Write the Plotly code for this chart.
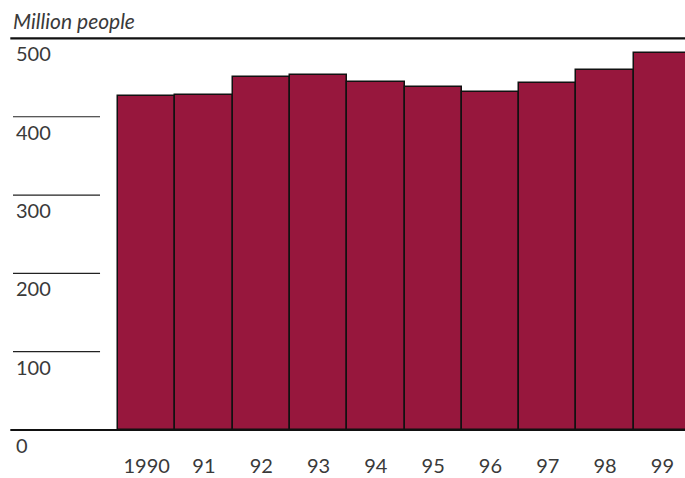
import plotly.graph_objects as go

years = ["1990", "91", "92", "93", "94", "95", "96", "97", "98", "99"]
values = [426, 428, 451, 453, 444, 438, 432, 443, 460, 481]
y_ticks = [0, 100, 200, 300, 400, 500]
y_ticktext = ["0", "100", "200", "300", "400", "500"]

FONT = "Lato"
TXT = "#3a3a3a"
BAR = "#97173D"

positions = list(range(len(years)))

fig = go.Figure(go.Bar(
    x=positions, y=values, width=1.0,
    marker=dict(color=BAR, line=dict(color="#111111", width=1.5)),
    hoverinfo="skip",
))

shapes = []
for v in [100, 200, 300, 400]:
    shapes.append(dict(type="line", xref="paper", yref="y", x0=0, x1=0.1295,
                       y0=v, y1=v, line=dict(color="#222222", width=1.2), layer="above"))
for v in [0, 500]:
    shapes.append(dict(type="line", xref="paper", yref="y", x0=-0.004, x1=1,
                       y0=v, y1=v, line=dict(color="#111111", width=2.2), layer="above"))

annotations = [
    dict(text=t, x=0, xref="paper", xanchor="left", xshift=1,
         y=v, yref="y", yanchor="middle", yshift=-15, showarrow=False,
         font=dict(family=FONT, size=20, color=TXT))
    for v, t in zip(y_ticks, y_ticktext)
]

fig.update_layout(
    width=685, height=478,
    margin=dict(l=13, r=0, t=30, b=26),
    paper_bgcolor="white", plot_bgcolor="white",
    showlegend=False,
    title=dict(text="Million people", x=13/685, xanchor="left", y=1-22/478, yanchor="middle",
               font=dict(family=FONT, size=21, color=TXT, style="italic")),
    xaxis=dict(range=[-2.332, 9.395], tickvals=positions, ticktext=years,
               showgrid=False, zeroline=False, showline=False, ticks="",
               tickfont=dict(family=FONT, size=20, color=TXT), ticklabelstandoff=0),
    yaxis=dict(range=[-28.1, 510.8], tickvals=y_ticks, showticklabels=False,
               showgrid=False, zeroline=False, showline=False, ticks=""),
    shapes=shapes,
    annotations=annotations,
    bargap=0,
)

fig.write_html("out.html", config={"displayModeBar": False},
               post_script="document.body.style.margin='0';document.body.style.overflow='hidden';")
